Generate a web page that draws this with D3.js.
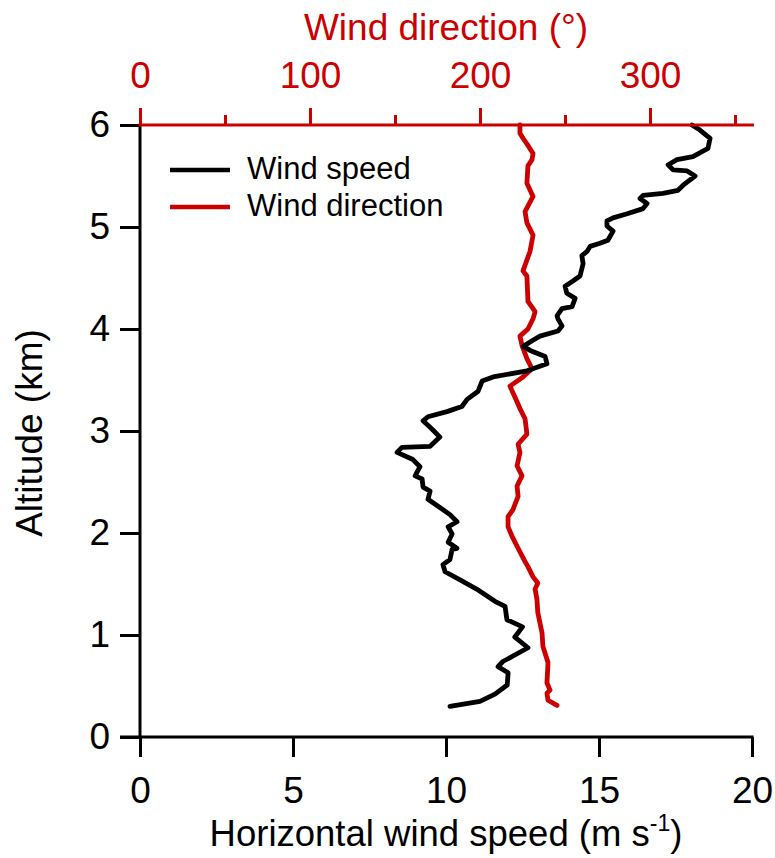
<!DOCTYPE html>
<html><head><meta charset="utf-8">
<script src="https://cdn.jsdelivr.net/npm/d3@7"></script>
<style>
html,body{margin:0;padding:0;background:#fff;}
svg{display:block;font-family:"Liberation Sans",Arial,sans-serif;}
</style></head>
<body><svg id="c" width="775" height="858"></svg>
<script>
// ---- data ----
const speedAlt = [0.30,0.35,0.42,0.51,0.63,0.69,0.74,0.875,0.98,1.08,1.15,1.28,1.33,1.45,1.54,1.62,1.69,1.74,1.84,1.85,1.91,1.99,2.06,2.11,2.18,2.25,2.33,2.41,2.45,2.53,2.56,2.65,2.72,2.79,2.84,2.85,2.94,3.02,3.10,3.14,3.19,3.24,3.31,3.39,3.49,3.53,3.59,3.66,3.73,3.79,3.83,3.89,3.93,3.98,4.03,4.10,4.13,4.20,4.22,4.30,4.35,4.42,4.47,4.52,4.64,4.72,4.76,4.81,4.84,4.87,4.96,5.01,5.06,5.09,5.13,5.18,5.23,5.28,5.31,5.33,5.36,5.41,5.50,5.55,5.56,5.61,5.66,5.69,5.77,5.87,5.95,6.00];
const speed = [10.13,11.11,11.6,12.0,12.03,11.7,11.86,12.68,12.25,12.5,11.99,11.93,11.6,11.0,10.46,9.97,9.9,10.13,10.2,10.36,10.07,10.2,10.07,10.36,10.13,9.8,9.41,9.48,9.25,9.22,8.99,9.15,8.92,8.4,8.56,9.48,9.8,9.54,9.25,9.41,10.03,10.52,10.69,11.05,11.18,11.54,12.65,13.3,13.24,12.75,12.52,12.84,13.07,13.66,13.79,13.66,13.63,13.79,14.12,14.22,13.95,13.89,14.15,14.38,14.48,14.44,14.61,14.71,15.03,15.29,15.46,15.26,15.26,15.46,15.92,16.44,16.57,16.34,16.44,17.09,17.58,17.75,18.14,17.88,17.42,17.26,17.55,18.07,18.56,18.63,18.30,18.04];
const dirAlt = [0.31,0.36,0.43,0.46,0.53,0.73,0.89,1.02,1.22,1.35,1.45,1.51,1.57,1.67,1.72,1.87,1.97,2.06,2.16,2.23,2.36,2.46,2.56,2.66,2.79,2.87,2.97,3.12,3.22,3.33,3.44,3.53,3.61,3.71,3.84,3.93,4.00,4.10,4.17,4.27,4.52,4.57,4.76,4.92,5.04,5.15,5.30,5.43,5.60,5.66,5.72,5.80,5.87,5.92,6.00];
const direction = [245.3,240,239.4,241.2,239.4,240,237,236.5,234,233.5,232.4,234,231.2,228.2,226.5,221.8,218.8,216.5,216.5,219.4,222.4,221.8,224.7,221.8,223.5,222.4,227.6,226.5,223.5,220.6,217.6,225.3,230.6,227.6,224.7,223.5,228.2,231.2,232.4,228.2,227.6,225.3,229.4,231.2,227.6,226.5,231.2,227.6,228.2,230.6,231.2,228.2,225.3,223.5,223.5];
const altTicks = [0,1,2,3,4,5,6];
const speedTicks = [0,5,10,15,20];
const dirMajor = [0,100,200,300];
const dirMinor = [50,150,250,350];
const seriesNames = ["Wind speed","Wind direction"];

const RED = "#cc0000";
const FONT = "Liberation Sans, Arial, sans-serif";
const svg = d3.select("#c");
const L = 140, R = 752, T = 125, B = 737;
const x = d3.scaleLinear().domain([0,20]).range([L,R]);
const xd = d3.scaleLinear().domain([0,360]).range([L,R]);
const y = d3.scaleLinear().domain([0,6]).range([B,T]);

// data lines
const spd = speedAlt.map((a,i)=>[speed[i],a]);
const dir = dirAlt.map((a,i)=>[direction[i],a]);
svg.append("path").datum(dir)
  .attr("d", d3.line().x(d=>xd(d[0])).y(d=>y(d[1])))
  .attr("fill","none").attr("stroke",RED).attr("stroke-width",4.8)
  .attr("stroke-linejoin","round").attr("stroke-linecap","round");
svg.append("path").datum(spd)
  .attr("d", d3.line().x(d=>x(d[0])).y(d=>y(d[1])))
  .attr("fill","none").attr("stroke","#000").attr("stroke-width",4.8)
  .attr("stroke-linejoin","round").attr("stroke-linecap","round");

// left axis
const gl = svg.append("g").attr("transform",`translate(${L},0)`)
  .call(d3.axisLeft(y).tickValues(altTicks).tickSize(20).tickPadding(10).tickSizeOuter(0).tickFormat(d3.format("d")));
// bottom axis
const gb = svg.append("g").attr("transform",`translate(0,${B})`)
  .call(d3.axisBottom(x).tickValues(speedTicks).tickSize(20).tickPadding(20).tickSizeOuter(0).tickFormat(d3.format("d")));
// top axis
const gt = svg.append("g").attr("transform",`translate(0,${T})`)
  .call(d3.axisTop(xd).tickValues(dirMajor).tickSize(17).tickPadding(20).tickSizeOuter(0).tickFormat(d3.format("d")));
const gtm = svg.append("g").attr("transform",`translate(0,${T})`)
  .call(d3.axisTop(xd).tickValues(dirMinor).tickSize(10).tickSizeOuter(0).tickFormat(""));
gtm.select(".domain").remove();

[gl,gb].forEach(g=>{
  g.selectAll("path.domain").attr("stroke","#000").attr("stroke-width",3);
  g.selectAll(".tick line").attr("stroke","#000").attr("stroke-width",3);
  g.selectAll(".tick text").attr("font-size",37).attr("font-family",FONT).attr("fill","#000");
});
[gt,gtm].forEach(g=>{
  g.selectAll("path.domain").attr("stroke",RED).attr("stroke-width",3);
  g.selectAll(".tick line").attr("stroke",RED).attr("stroke-width",3);
  g.selectAll(".tick text").attr("font-size",37).attr("font-family",FONT).attr("fill",RED);
});
gb.select("path.domain").attr("d",`M${L-20},0H${R+1.5}`);
gt.select("path.domain").attr("d",`M${L-1.5},0H${R+2}`);
gl.select("path.domain").attr("d",`M0,${B}V${T}`);

// axis titles
svg.append("text").attr("x",(L+R)/2).attr("y",40).attr("text-anchor","middle")
  .attr("font-size",37).attr("fill",RED).text("Wind direction (°)");
const bt = svg.append("text").attr("x",(L+R)/2).attr("y",846).attr("text-anchor","middle")
  .attr("font-size",36.5).attr("fill","#000");
bt.append("tspan").text("Horizontal wind speed (m s");
bt.append("tspan").attr("font-size",23).attr("dy",-15).text("-1");
bt.append("tspan").attr("dy",15).text(")");
svg.append("text").attr("transform",`translate(42,${(T+B)/2 + 2}) rotate(-90)`).attr("text-anchor","middle")
  .attr("font-size",37).attr("fill","#000").text("Altitude (km)");

// legend
const lg = svg.append("g");
seriesNames.forEach((n,i)=>{
  const yy = 170 + i*37;
  lg.append("line").attr("x1",170).attr("x2",230).attr("y1",yy).attr("y2",yy)
    .attr("stroke", i===0?"#000":RED).attr("stroke-width",4.5);
  lg.append("text").attr("x",247).attr("y",yy+9).attr("font-size",31).attr("fill","#000").text(n);
});
</script></body></html>
